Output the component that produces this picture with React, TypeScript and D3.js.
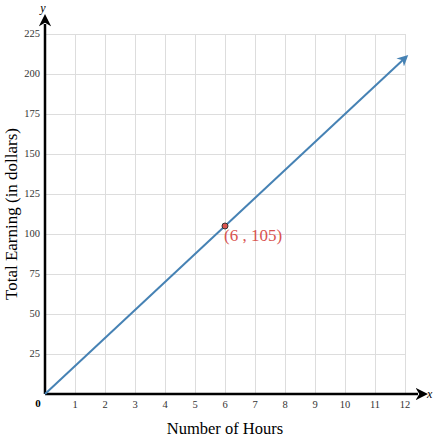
import { useEffect, useRef } from 'react';
import * as d3 from 'd3';

// x: hours, y: earnings
const xTicks = [1, 2, 3, 4, 5, 6, 7, 8, 9, 10, 11, 12];
const yTicks = [25, 50, 75, 100, 125, 150, 175, 200, 225];
const lineHours = [0, 12];
const lineEarnings = [0, 210];
const pointHours = [6];
const pointEarnings = [105];
const pointLabels = ['(6 , 105)'];

const W = 433;
const H = 438;
const FONT = '"Liberation Serif", "DejaVu Serif", serif';

export default function App() {
  const ref = useRef<SVGSVGElement>(null);

  useEffect(() => {
    if (!ref.current) return;
    const svg = d3.select(ref.current);
    svg.selectAll('*').remove();

    const x = d3.scaleLinear().domain([0, 12]).range([45, 405]);
    const y = d3.scaleLinear().domain([0, 225]).range([394, 34]);

    const defs = svg.append('defs');
    defs.append('marker')
      .attr('id', 'arrow-black')
      .attr('viewBox', '0 0 10 10')
      .attr('refX', 2).attr('refY', 5)
      .attr('markerWidth', 5).attr('markerHeight', 5)
      .attr('markerUnits', 'strokeWidth')
      .attr('orient', 'auto')
      .append('path')
      .attr('d', 'M0,0 L10,5 L0,10 L3,5 Z')
      .attr('fill', '#000');
    defs.append('marker')
      .attr('id', 'arrow-blue')
      .attr('viewBox', '0 0 10 10')
      .attr('refX', 6).attr('refY', 5)
      .attr('markerWidth', 5.5).attr('markerHeight', 5.5)
      .attr('markerUnits', 'strokeWidth')
      .attr('orient', 'auto')
      .append('path')
      .attr('d', 'M0,0 L10,5 L0,10 L3,5 Z')
      .attr('fill', '#4682b4');

    // grid
    const grid = svg.append('g').attr('stroke', '#dddddd').attr('stroke-width', 1);
    grid.selectAll('.vg')
      .data(xTicks)
      .join('line')
      .attr('x1', d => x(d) + 0.5).attr('x2', d => x(d) + 0.5)
      .attr('y1', y(225)).attr('y2', y(0));
    grid.selectAll('.hg')
      .data(yTicks)
      .join('line')
      .attr('x1', x(0)).attr('x2', x(12))
      .attr('y1', d => y(d) + 0.5).attr('y2', d => y(d) + 0.5);

    // tick labels
    svg.selectAll('.xl')
      .data(xTicks)
      .join('text')
      .attr('x', d => x(d))
      .attr('y', 408)
      .attr('text-anchor', 'middle')
      .style('font-family', FONT)
      .style('font-size', '10.5px')
      .style('fill', '#333')
      .text(d => d);
    svg.selectAll('.yl')
      .data(yTicks)
      .join('text')
      .attr('x', 40)
      .attr('y', d => y(d))
      .attr('dy', '0.32em')
      .attr('text-anchor', 'end')
      .style('font-family', FONT)
      .style('font-size', '10.5px')
      .style('fill', '#333')
      .text(d => d);
    svg.append('text')
      .attr('x', 38).attr('y', 407)
      .attr('text-anchor', 'middle')
      .style('font-family', FONT)
      .style('font-size', '11px')
      .style('font-weight', 'bold')
      .text('0');

    // axes
    svg.append('line')
      .attr('x1', x(0)).attr('y1', y(0))
      .attr('x2', 418).attr('y2', y(0))
      .attr('stroke', '#000').attr('stroke-width', 2.5)
      .attr('marker-end', 'url(#arrow-black)');
    svg.append('line')
      .attr('x1', x(0)).attr('y1', y(0))
      .attr('x2', x(0)).attr('y2', 24)
      .attr('stroke', '#000').attr('stroke-width', 2.5)
      .attr('marker-end', 'url(#arrow-black)');
    svg.append('text')
      .attr('x', 427).attr('y', 398)
      .style('font-family', FONT).style('font-style', 'italic').style('font-size', '12px')
      .text('x');
    svg.append('text')
      .attr('x', 43).attr('y', 12)
      .attr('text-anchor', 'middle')
      .style('font-family', FONT).style('font-style', 'italic').style('font-size', '12px')
      .text('y');

    // line
    const lineData = lineHours.map((h, i) => ({ h, e: lineEarnings[i] }));
    svg.append('path')
      .datum(lineData)
      .attr('fill', 'none')
      .attr('stroke', '#4682b4')
      .attr('stroke-width', 2)
      .attr('marker-end', 'url(#arrow-blue)')
      .attr('d', d3.line<{ h: number; e: number }>().x(d => x(d.h)).y(d => y(d.e)));

    // point
    const pts = pointHours.map((h, i) => ({ h, e: pointEarnings[i], label: pointLabels[i] }));
    svg.selectAll('.pt')
      .data(pts)
      .join('circle')
      .attr('cx', d => x(d.h))
      .attr('cy', d => y(d.e))
      .attr('r', 3)
      .attr('fill', '#d9534f')
      .attr('stroke', '#333')
      .attr('stroke-width', 1);
    svg.selectAll('.pl')
      .data(pts)
      .join('text')
      .attr('x', d => x(d.h) - 1)
      .attr('y', d => y(d.e) + 15)
      .style('font-family', FONT)
      .style('font-size', '17px')
      .style('fill', '#d9534f')
      .text(d => d.label);

    // axis titles
    svg.append('text')
      .attr('x', 225).attr('y', 434)
      .attr('text-anchor', 'middle')
      .style('font-family', FONT)
      .style('font-size', '16.5px')
      .text('Number of Hours');
    svg.append('text')
      .attr('transform', `translate(17,${214}) rotate(-90)`)
      .attr('text-anchor', 'middle')
      .style('font-family', FONT)
      .style('font-size', '17px')
      .text('Total Earning (in dollars)');
  }, []);

  return (
    <svg ref={ref} width={W} height={H} style={{ position: 'absolute', left: 0, top: 0, background: '#fff' }} />
  );
}
